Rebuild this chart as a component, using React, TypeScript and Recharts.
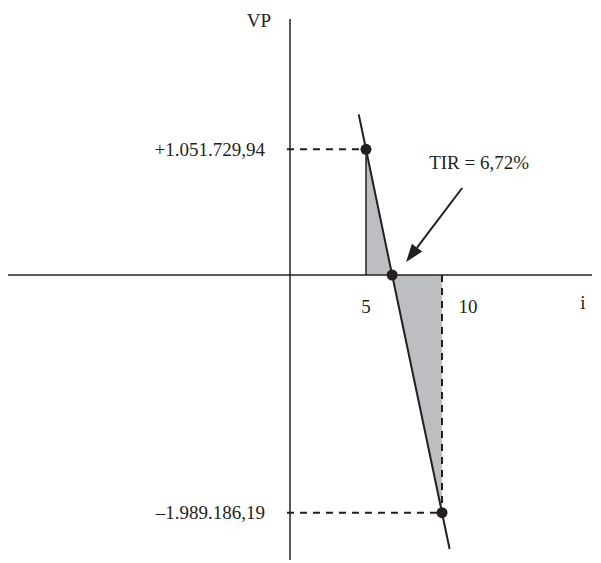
import { ComposedChart, XAxis, YAxis, Area, Line, Scatter, ReferenceLine, ReferenceDot } from 'recharts';

// taxa i (%) e valor presente VP nos três pontos marcados
const rates = [5, 6.72, 10];
const presentValues = [1051729.94, 0, -1989186.19];
const vpLabels = ['+1.051.729,94', '–1.989.186,19'];
const rateLabels = ['5', '10'];
const tirLabel = 'TIR = 6,72%';

// prolongamento da reta além dos pontos extremos
const lineEndRates = [4.52, 10.5];
const lineEndValues = [1344000, -2293000];

const INK = '#231f20';
const SHADE = '#bdbec1';
const FONT = '"Liberation Serif", "DejaVu Serif", serif';
const textStyle = { fontFamily: FONT, fontSize: 19, fill: INK };

const points = rates.map((i, k) => ({ i, vp: presentValues[k] }));
const lineData = [
  { i: lineEndRates[0], vp: lineEndValues[0] },
  ...points,
  { i: lineEndRates[1], vp: lineEndValues[1] },
];

const X_DOMAIN: [number, number] = [-18.553, 19.868];
const Y_DOMAIN: [number, number] = [-2384900, 2142300];
// a linha tracejada cruza um pouco o eixo VP, como um traço de marcação
const DASH_START = -0.2;

const vpLabel = (text: string) => (props: any) => {
  const { x, y, height } = props.viewBox;
  return (
    <text x={x - 22} y={y + height / 2} dy="0.35em" textAnchor="end" style={textStyle}>
      {text}
    </text>
  );
};

const rateLabel = (text: string, dx: number, fromTop: boolean) => (props: any) => {
  const { x, y, height } = props.viewBox;
  const axisY = fromTop ? y : y + height;
  return (
    <text x={x + dx} y={axisY + 38} textAnchor="middle" style={textStyle}>
      {text}
    </text>
  );
};

const axisNameI = (props: any) => {
  const { x, y, width } = props.viewBox;
  return (
    <text x={x + width - 9} y={y + 34} textAnchor="middle" style={textStyle}>
      i
    </text>
  );
};

const axisNameVP = (props: any) => {
  const { x, y } = props.viewBox;
  return (
    <text x={x - 31} y={y + 8} textAnchor="middle" style={textStyle}>
      VP
    </text>
  );
};

// seta e texto da TIR, ancorados no ponto onde VP = 0
const TirArrow = (props: any) => {
  const { cx, cy } = props;
  const tail = { x: cx + 70, y: cy - 87 };
  const tip = { x: cx + 14, y: cy - 13 };
  const dx = tip.x - tail.x;
  const dy = tip.y - tail.y;
  const len = Math.hypot(dx, dy);
  const ux = dx / len;
  const uy = dy / len;
  const head = 18;
  const half = 6.5;
  const bx = tip.x - ux * head;
  const by = tip.y - uy * head;
  const p1 = `${bx - uy * half},${by + ux * half}`;
  const p2 = `${bx + uy * half},${by - ux * half}`;
  return (
    <g>
      <line x1={tail.x} y1={tail.y} x2={bx} y2={by} stroke={INK} strokeWidth={2} />
      <polygon points={`${tip.x},${tip.y} ${p1} ${p2}`} fill={INK} />
      <text x={cx + 87} y={cy - 106} textAnchor="middle" style={textStyle}>
        {tirLabel}
      </text>
    </g>
  );
};

export default function App() {
  return (
    <div style={{ position: 'absolute', left: 0, top: 0, width: 601, height: 563, background: '#fff' }}>
      <ComposedChart width={601} height={563} margin={{ top: 19, right: 9, bottom: 3, left: 8 }}>
        <XAxis type="number" dataKey="i" domain={X_DOMAIN} allowDataOverflow hide />
        <YAxis type="number" domain={Y_DOMAIN} allowDataOverflow hide />

        <Area
          data={points}
          dataKey="vp"
          type="linear"
          baseValue={0}
          fill={SHADE}
          fillOpacity={1}
          stroke="none"
          isAnimationActive={false}
        />

        <ReferenceLine y={0} stroke={INK} strokeWidth={1.5} label={axisNameI} />
        <ReferenceLine x={0} stroke={INK} strokeWidth={1.5} label={axisNameVP} />

        <ReferenceLine
          segment={[{ x: rates[0], y: 0 }, { x: rates[0], y: presentValues[0] }]}
          stroke={INK}
          strokeWidth={1.5}
          label={rateLabel(rateLabels[0], 0, false)}
        />
        <ReferenceLine
          segment={[{ x: rates[2], y: 0 }, { x: rates[2], y: presentValues[2] }]}
          stroke={INK}
          strokeWidth={2}
          strokeDasharray="7 6"
          label={rateLabel(rateLabels[1], 26, true)}
        />
        <ReferenceLine
          segment={[{ x: DASH_START, y: presentValues[0] }, { x: rates[0], y: presentValues[0] }]}
          stroke={INK}
          strokeWidth={2}
          strokeDasharray="7 6"
          label={vpLabel(vpLabels[0])}
        />
        <ReferenceLine
          segment={[{ x: DASH_START, y: presentValues[2] }, { x: rates[2], y: presentValues[2] }]}
          stroke={INK}
          strokeWidth={2}
          strokeDasharray="7 6"
          label={vpLabel(vpLabels[1])}
        />

        <Line
          data={lineData}
          dataKey="vp"
          type="linear"
          stroke={INK}
          strokeWidth={2}
          dot={false}
          activeDot={false}
          isAnimationActive={false}
        />
        <Scatter
          data={points}
          dataKey="vp"
          fill={INK}
          shape={(p: any) => <circle cx={p.cx} cy={p.cy} r={5.5} fill={INK} />}
          isAnimationActive={false}
        />
        <ReferenceDot x={rates[1]} y={presentValues[1]} r={0} shape={TirArrow} />
      </ComposedChart>
    </div>
  );
}
